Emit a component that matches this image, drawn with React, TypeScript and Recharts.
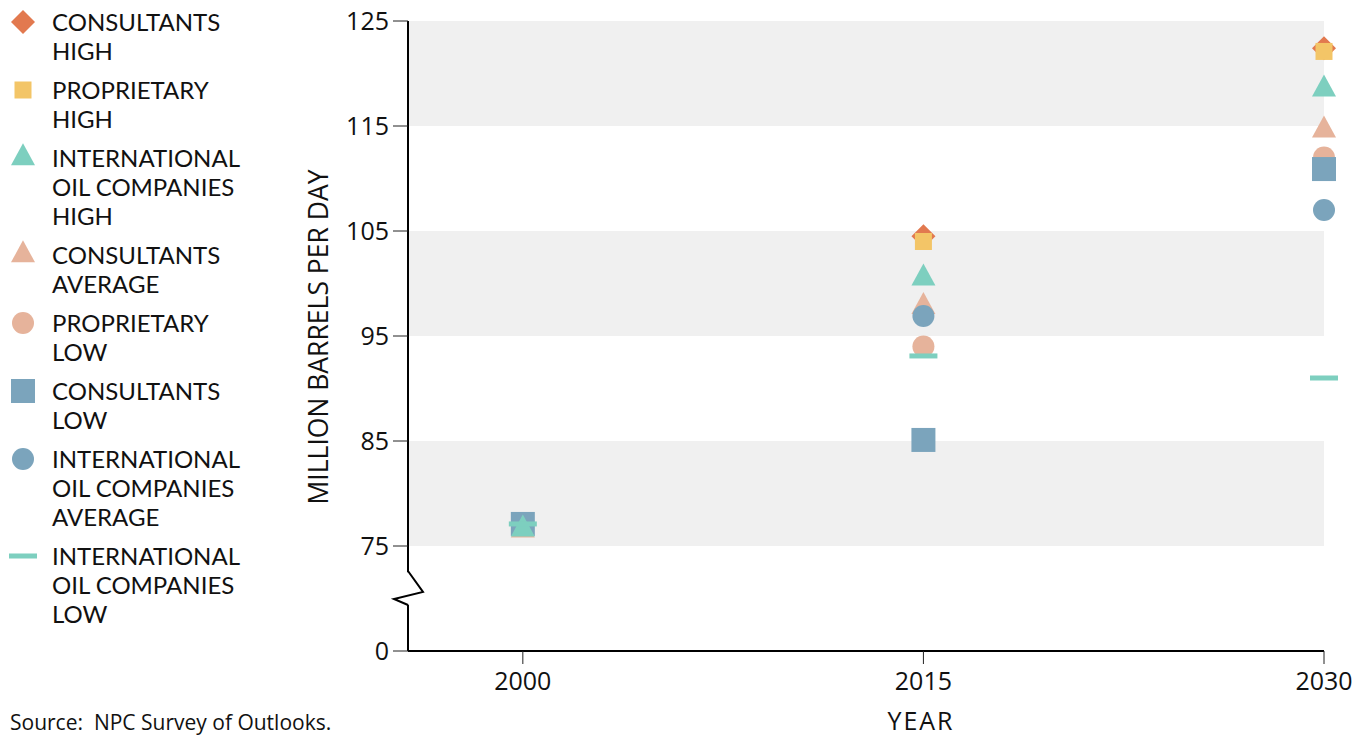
import React from "react";
import { ScatterChart, Scatter, XAxis, YAxis, ReferenceArea, ReferenceLine, ReferenceDot, Label } from "recharts";

// years on the x axis
const years = [2000, 2015, 2030];

// million barrels per day
const consultantsHigh = [77.0, 104.5, 122.4];
const proprietaryHigh = [77.2, 104.0, 122.1];
const iocHigh = [76.6, 100.5, 118.5];
const consultantsAverage = [76.5, 97.8, 114.6];
const proprietaryLow = [77.0, 94.0, 112.0];
const consultantsLow = [77.1, 85.1, 110.9];
const iocAverage = [77.0, 96.9, 107.0];
const iocLow = [77.1, 93.1, 91.0];

// y axis is broken: the bottom tick (65 on the scale) stands for 0
const yTicks = [65, 75, 85, 95, 105, 115, 125];
const yTickLabels = ["0", "75", "85", "95", "105", "115", "125"];
const bandRanges = [
  [75, 85],
  [95, 105],
  [115, 125],
];

const X_MIN = 1995.7;
const X_MAX = 2030;
const FONT = "'Open Sans', sans-serif";
const LEGEND_FONT = "Lato, 'Open Sans', sans-serif";

type Kind = "diamond" | "square" | "triangle" | "circle" | "dash";

interface SeriesDef {
  key: string;
  lines: string[];
  values: number[];
  color: string;
  kind: Kind;
  size: number;
}

const series: SeriesDef[] = [
  { key: "ch", lines: ["CONSULTANTS", "HIGH"], values: consultantsHigh, color: "#E2794F", kind: "diamond", size: 24 },
  { key: "ph", lines: ["PROPRIETARY", "HIGH"], values: proprietaryHigh, color: "#F3C567", kind: "square", size: 17 },
  { key: "ih", lines: ["INTERNATIONAL", "OIL COMPANIES", "HIGH"], values: iocHigh, color: "#7DCFBF", kind: "triangle", size: 24 },
  { key: "ca", lines: ["CONSULTANTS", "AVERAGE"], values: consultantsAverage, color: "#E6B39B", kind: "triangle", size: 24 },
  { key: "pl", lines: ["PROPRIETARY", "LOW"], values: proprietaryLow, color: "#E6B39B", kind: "circle", size: 22 },
  { key: "cl", lines: ["CONSULTANTS", "LOW"], values: consultantsLow, color: "#7BA4BC", kind: "square", size: 24 },
  { key: "ia", lines: ["INTERNATIONAL", "OIL COMPANIES", "AVERAGE"], values: iocAverage, color: "#7BA4BC", kind: "circle", size: 22 },
  { key: "il", lines: ["INTERNATIONAL", "OIL COMPANIES", "LOW"], values: iocLow, color: "#7DCFBF", kind: "dash", size: 28 },
];

// order the marks are painted in (later ones on top)
const drawOrder = ["ch", "ph", "ca", "pl", "cl", "ia", "ih", "il"];

function Marker({ kind, size, color, cx, cy }: { kind: Kind; size: number; color: string; cx: number; cy: number }) {
  const h = size / 2;
  if (kind === "diamond") {
    return <polygon points={`${cx},${cy - h} ${cx + h},${cy} ${cx},${cy + h} ${cx - h},${cy}`} fill={color} />;
  }
  if (kind === "square") {
    return <rect x={cx - h} y={cy - h} width={size} height={size} fill={color} />;
  }
  if (kind === "circle") {
    return <circle cx={cx} cy={cy} r={h} fill={color} />;
  }
  if (kind === "triangle") {
    const th = size * 0.92;
    return (
      <polygon
        points={`${cx},${cy - (th * 2) / 3} ${cx + h},${cy + th / 3} ${cx - h},${cy + th / 3}`}
        fill={color}
      />
    );
  }
  return <rect x={cx - h} y={cy - 2.5} width={size} height={5} fill={color} />;
}

function LegendBlock() {
  return (
    <div style={{ position: "absolute", left: 0, top: 7, fontFamily: LEGEND_FONT, fontSize: 24, lineHeight: "29px", color: "#111" }}>
      {series.map((s) => (
        <div key={s.key} style={{ display: "flex", marginBottom: 10 }}>
          <svg width={46} height={29} style={{ flex: "none" }}>
            <Marker kind={s.kind} size={s.size} color={s.color} cx={23} cy={15} />
          </svg>
          <div style={{ marginLeft: 6, whiteSpace: "nowrap" }}>
            {s.lines.map((l) => (
              <div key={l}>{l}</div>
            ))}
          </div>
        </div>
      ))}
    </div>
  );
}

const zigzag = (props: any) => {
  const { cx, cy } = props;
  return (
    <path
      d={`M${cx},${cy - 17} L${cx + 15},${cy + 4} L${cx - 14},${cy + 11} L${cx},${cy + 17}`}
      fill="none"
      stroke="#000"
      strokeWidth={2}
    />
  );
};

export default function App() {
  const ordered = drawOrder.map((k) => series.find((s) => s.key === k)!);
  return (
    <div style={{ position: "absolute", left: 0, top: 0, width: 1369, height: 737, background: "#fff", fontFamily: FONT }}>
      <LegendBlock />
      <ScatterChart width={1369} height={737} margin={{ top: 21, right: 45, bottom: 46, left: 348 }}>
        {bandRanges.map(([a, b]) => (
          <ReferenceArea key={a} x1={X_MIN} x2={X_MAX} y1={a} y2={b} fill="#f0f0f0" fillOpacity={1} stroke="none" />
        ))}
        <XAxis
          type="number"
          dataKey="x"
          domain={[X_MIN, X_MAX]}
          ticks={years}
          height={40}
          axisLine={{ stroke: "#000", strokeWidth: 2 }}
          tickLine={{ stroke: "#222" }}
          tickSize={13}
          tickMargin={8}
          tick={{ fontSize: 25, fill: "#111" }}
        >
          <Label
            content={() => (
              <text x={921} y={730} textAnchor="middle" fontSize={25} letterSpacing={2} fill="#111">
                YEAR
              </text>
            )}
          />
        </XAxis>
        <YAxis
          type="number"
          dataKey="y"
          domain={[65, 125]}
          ticks={yTicks}
          tickFormatter={(v: number) => yTickLabels[yTicks.indexOf(v)]}
          width={60}
          axisLine={false}
          tickLine={{ stroke: "#222" }}
          tickSize={15}
          tickMargin={4}
          tick={{ fontSize: 25, fill: "#111" }}
        >
          <Label
            content={() => (
              <text x={328} y={337} transform="rotate(-90 328 337)" textAnchor="middle" fontSize={26.5} fill="#111">
                MILLION BARRELS PER DAY
              </text>
            )}
          />
        </YAxis>
        <ReferenceLine segment={[{ x: X_MIN, y: 125 }, { x: X_MIN, y: 72.5 }]} stroke="#000" strokeWidth={2} />
        <ReferenceLine segment={[{ x: X_MIN, y: 69.4 }, { x: X_MIN, y: 65 }]} stroke="#000" strokeWidth={2} />
        <ReferenceDot x={X_MIN} y={71} r={1} shape={zigzag} ifOverflow="visible" />
        {ordered.map((s) => (
          <Scatter
            key={s.key}
            name={s.lines.join(" ")}
            data={years.map((x, i) => ({ x, y: s.values[i] }))}
            isAnimationActive={false}
            shape={(p: any) => <Marker kind={s.kind} size={s.size} color={s.color} cx={p.cx} cy={p.cy} />}
          />
        ))}
      </ScatterChart>
      <div style={{ position: "absolute", left: 10, top: 708, fontSize: 21, color: "#111" }}>Source:&nbsp; NPC Survey of Outlooks.</div>
    </div>
  );
}
